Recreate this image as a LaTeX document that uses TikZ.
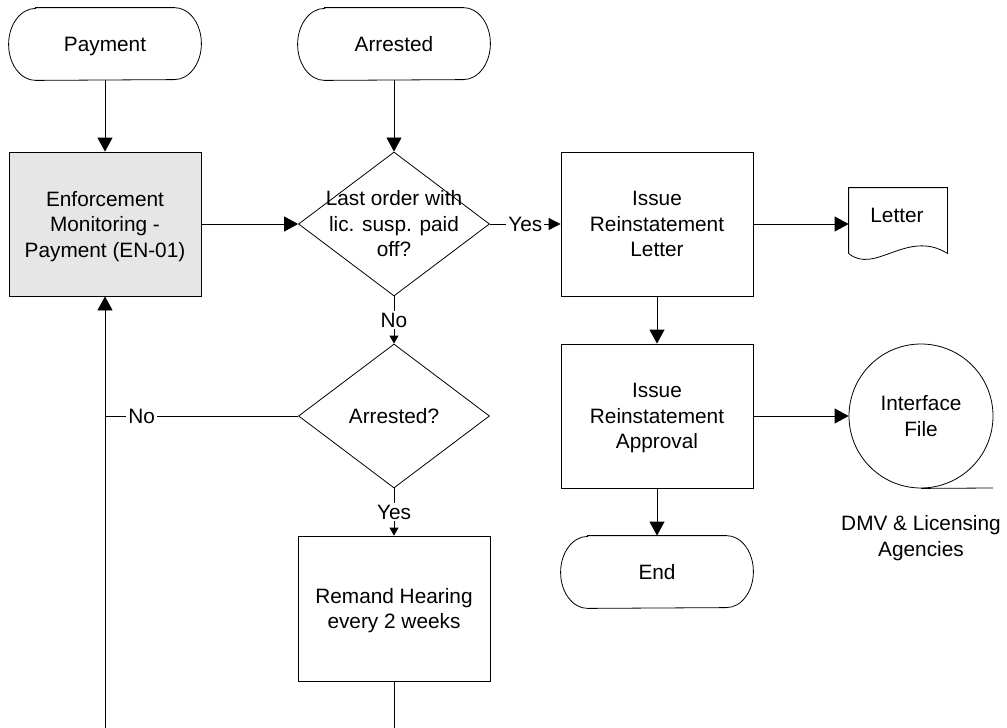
\documentclass[tikz,border=0pt]{standalone}
\usepackage{fontspec}
\setmainfont{Liberation Sans}
\usetikzlibrary{arrows.meta,shapes.geometric,calc}
\definecolor{boxgray}{RGB}{230,230,230}
\newcommand\nodep[1]{\raisebox{0pt}[\height][0pt]{#1}}
\begin{document}
\begin{tikzpicture}[x=1pt,y=-1pt,line width=0.8pt,
  every node/.style={font=\fontsize{20.8}{25.5}\selectfont, align=center},
  term/.style={minimum width=192pt, minimum height=72pt, inner sep=0pt},
  proc/.style={draw, minimum width=192pt, minimum height=144pt, inner sep=0pt},
  dec/.style={draw, diamond, minimum width=191pt, minimum height=144pt, inner sep=0pt},
  arr/.style={-{Triangle[length=14pt,width=15pt]}},
  marr/.style={-{Triangle[length=12pt,width=12pt]}},
  sarr/.style={-{Triangle[length=8pt,width=9pt]}},
  lbl/.style={fill=white, inner sep=2pt}
]
\useasboundingbox (0,0) rectangle (1007,728);

\node[term] (pay) at (105,44) {\nodep{Payment}};
\node[term] (arrn) at (394,44) {Arrested};
\node[proc, fill=boxgray] (enf) at (105,224) {Enforcement\\Monitoring -\\\nodep{Payment (EN-01)}};
\node[dec] (d1) at (394,224) {};
\node (d1t) at (394,224) {Last order with\\\nodep{lic. susp. paid}\\off?};
\node[proc] (let) at (657,224) {Issue\\Reinstatement\\Letter};

% document shape
\node[minimum width=98pt, minimum height=65pt, inner sep=0pt] (doc) at (898,220.5) {};
\draw (doc.south west) -- (doc.north west) -- (doc.north east) -- (doc.south east)
  .. controls ($(doc.south east)+(-40,-25)$) and ($(doc.south west)+(26,22)$) .. (doc.south west);
\node (doct) at (897,215) {Letter};

\node[proc] (app) at (657,416) {Issue\\Reinstatement\\\nodep{Approval}};
\node[draw, circle, minimum size=144pt, inner sep=0pt] (ifc) at (921,416) {Interface\\File};
\coordinate (tapeend) at (993,488);
\draw (ifc.south) -- (tapeend);
\node (dmv) at (921,536) {DMV \& Licensing\\\nodep{Agencies}};
\node[term] (endn) at (657,572) {End};

\node[dec] (d2) at (394,416) {};
\node (d2t) at (394,416) {Arrested?};
\node[proc, minimum height=145pt] (rem) at (394,608.5) {Remand Hearing\\\nodep{every 2 weeks}};

% terminator outlines
\foreach \n in {pay,arrn,endn}
  \draw ([xshift=27pt]\n.north west) -- ([xshift=-27pt]\n.north east)
    arc[start angle=90,end angle=-90,x radius=27pt,y radius=36pt]
    -- ([xshift=27pt]\n.south west)
    arc[start angle=270,end angle=90,x radius=27pt,y radius=36pt] -- cycle;

% connectors
\draw[arr] (pay) -- (enf);
\draw[arr] (arrn) -- (d1);
\draw[arr] (enf.east) -- (d1.west);
\draw[marr] (d1.east) -- node[lbl]{Yes} (let.west);
\draw[sarr] (d1.south) -- node[lbl]{No} (d2.north);
\draw[arr] (let.east) -- (let.east -| doc.west);
\draw[arr] (let) -- (app);
\draw[arr] (app.east) -- (ifc.west);
\draw[arr] (app) -- (endn);
\draw[sarr] (d2.south) -- node[lbl]{Yes} (rem.north);

\coordinate (loopj) at (enf.south |- d2.west);
\draw (d2.west) -- node[lbl, pos=0.81]{No} (loopj);
\coordinate (bl) at (105,728);
\coordinate (br) at (rem.south |- bl);
\draw (rem.south) -- (br);
\draw[arr] (bl) -- (enf.south);
\end{tikzpicture}
\end{document}
